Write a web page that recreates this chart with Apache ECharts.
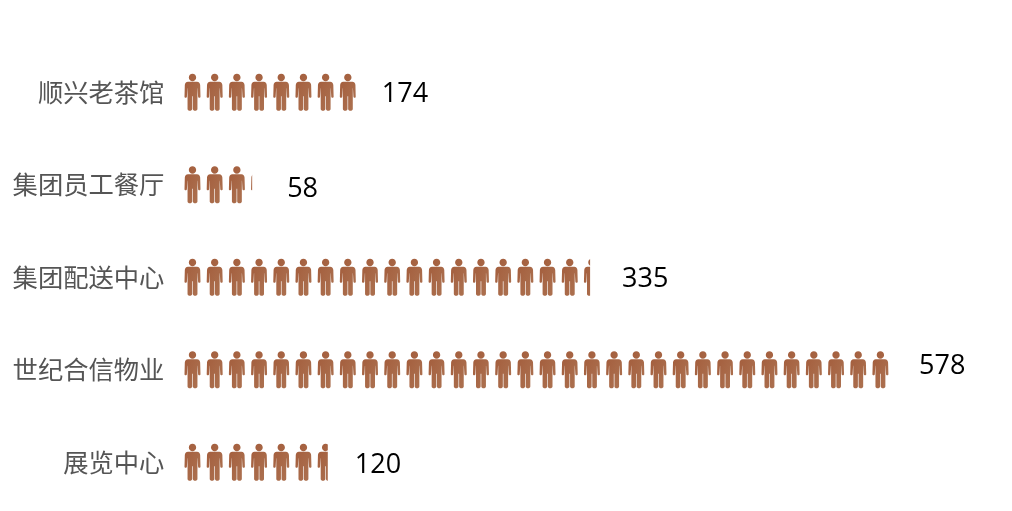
<!DOCTYPE html>
<html><head><meta charset="utf-8">
<style>html,body{margin:0;padding:0;background:#fff}#c{width:1012px;height:511px}</style>
<script src="https://cdn.jsdelivr.net/npm/echarts@6/dist/echarts.min.js"></script>
</head><body><div id="c"></div>
<script>
const categories = ['顺兴老茶馆','集团员工餐厅','集团配送中心','世纪合信物业','展览中心'];
// length of each drawn row of figures
const drawnValues = [143, 58, 335, 580, 120];
// the numbers printed beside the rows
const printedValues = [174, 58, 335, 578, 120];
const person = 'path://M50,0 C63,0 73,9 73,20 C73,31 63,40 50,40 C37,40 27,31 27,20 C27,9 37,0 50,0 Z M22,43 L78,43 C91,43 97,50 98,61 L100,124 C100,132 86,132 85,124 L82,78 L81,78 L81,190 C81,203 52,203 52,190 L52,122 L48,122 L48,190 C48,203 19,203 19,190 L19,78 L18,78 L15,124 C14,132 0,132 0,124 L2,61 C3,50 9,43 22,43 Z';
const labelStyle = {fontSize:27,color:'#000',fontFamily:'"Open Sans"'};
const labelNudges = [[-2,2],[7,5],[4,2],[2,-3],[-1,3]];
const chart = echarts.init(document.getElementById('c'), null, {renderer:'canvas'});
const scaleMax = 673;
chart.setOption({
  animation:false,
  grid:{left:181.4,top:46,width:673*1.22,height:462.5,containLabel:false},
  xAxis:{type:'value',min:0,max:scaleMax,show:false},
  yAxis:{type:'category',inverse:true,data:categories,
    axisLine:{show:false},axisTick:{show:false},splitLine:{show:false},
    axisLabel:{margin:17,fontSize:25.3,color:'#555555',fontFamily:'"Noto Sans CJK SC"'}},
  series:[{
    type:'pictorialBar',
    data:drawnValues,
    symbol:person,
    symbolRepeat:true,
    symbolClip:true,
    symbolBoundingData:scaleMax,
    symbolSize:[16,37],
    symbolMargin:'3.1!',
    itemStyle:{color:new echarts.graphic.LinearGradient(0,0,1,1,[{offset:0,color:'#a35c3b'},{offset:1,color:'#ad7352'}])},
    silent:true
  },{
    type:'bar',
    barWidth:37,
    barGap:'-100%',
    silent:true,
    itemStyle:{color:'transparent'},
    data:drawnValues.map((v,i)=>({value:v,label:{show:true,position:'right',distance:28,offset:labelNudges[i],...labelStyle,
      formatter:String(printedValues[i])}}))
  }]
});
</script></body></html>
